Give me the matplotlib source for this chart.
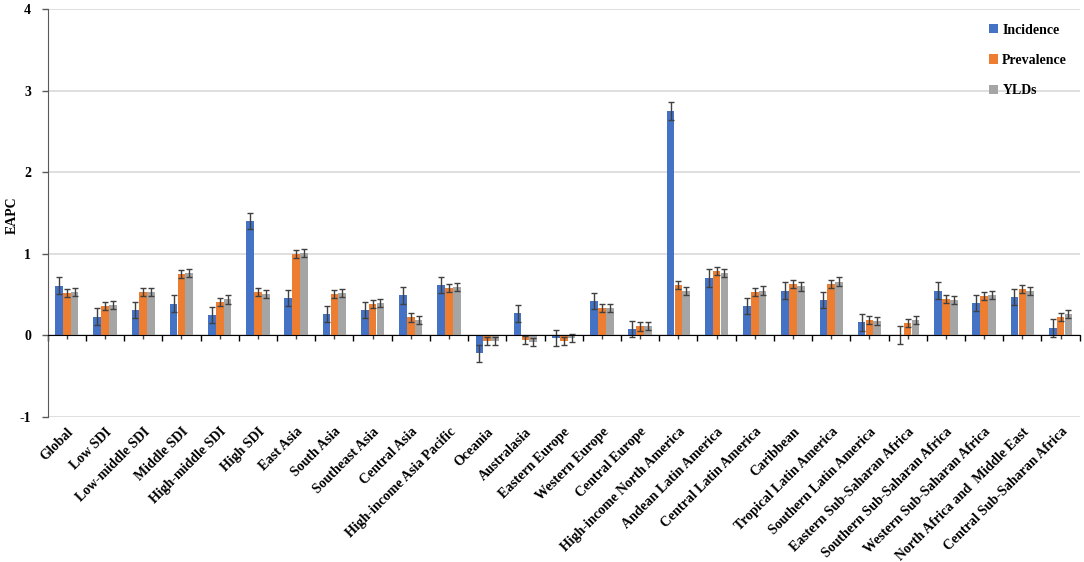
import numpy as np
import matplotlib
matplotlib.use("Agg")
import matplotlib.pyplot as plt

plt.rcParams['font.family'] = ['Liberation Serif', 'DejaVu Serif']
plt.rcParams['font.weight'] = 'bold'

# data
regions = ["Global", "Low SDI", "Low-middle SDI", "Middle SDI", "High-middle SDI",
           "High SDI", "East Asia", "South Asia", "Southeast Asia", "Central Asia",
           "High-income Asia Pacific", "Oceania", "Australasia", "Eastern Europe",
           "Western Europe", "Central Europe", "High-income North America",
           "Andean Latin America", "Central Latin America", "Caribbean",
           "Tropical Latin America", "Southern Latin America",
           "Eastern Sub-Saharan Africa", "Southern Sub-Saharan Africa",
           "Western Sub-Saharan Africa", "North Africa and  Middle East",
           "Central Sub-Saharan Africa"]

incidence = [0.61, 0.23, 0.31, 0.39, 0.25, 1.40, 0.46, 0.26, 0.31, 0.49,
             0.62, -0.22, 0.27, -0.03, 0.42, 0.08, 2.75, 0.70, 0.36, 0.55,
             0.43, 0.16, 0.00, 0.55, 0.40, 0.47, 0.09]
prevalence = [0.52, 0.36, 0.53, 0.75, 0.41, 0.53, 1.00, 0.51, 0.38, 0.22,
              0.58, -0.07, -0.06, -0.07, 0.34, 0.11, 0.62, 0.79, 0.53, 0.63,
              0.63, 0.19, 0.15, 0.45, 0.48, 0.57, 0.23]
ylds = [0.53, 0.37, 0.53, 0.76, 0.44, 0.51, 1.01, 0.52, 0.40, 0.19,
        0.59, -0.07, -0.08, -0.03, 0.34, 0.12, 0.54, 0.76, 0.55, 0.60,
        0.66, 0.18, 0.19, 0.43, 0.50, 0.54, 0.26]

inc_err = [0.10, 0.10, 0.10, 0.10, 0.10, 0.10, 0.10, 0.10, 0.10, 0.10,
           0.10, 0.10, 0.10, 0.10, 0.10, 0.10, 0.11, 0.11, 0.10, 0.10,
           0.10, 0.10, 0.11, 0.10, 0.10, 0.10, 0.11]
prev_err = [0.05, 0.05, 0.05, 0.05, 0.05, 0.05, 0.05, 0.05, 0.05, 0.05,
            0.05, 0.05, 0.05, 0.05, 0.05, 0.05, 0.05, 0.05, 0.05, 0.05,
            0.05, 0.05, 0.05, 0.05, 0.05, 0.05, 0.05]
yld_err = [0.05, 0.05, 0.05, 0.05, 0.05, 0.05, 0.05, 0.05, 0.05, 0.05,
           0.05, 0.05, 0.05, 0.05, 0.05, 0.05, 0.05, 0.05, 0.05, 0.05,
           0.05, 0.05, 0.05, 0.05, 0.05, 0.05, 0.05]

series = [("Incidence", incidence, inc_err, "#4472C4"),
          ("Prevalence", prevalence, prev_err, "#ED7D31"),
          ("YLDs", ylds, yld_err, "#A5A5A5")]

fig = plt.figure(figsize=(10.84, 5.62), dpi=100)
ax = fig.add_axes([0.044, 0.258, 0.952, 0.726])

x = np.arange(len(regions))
w = 0.2
for i, (name, vals, err, col) in enumerate(series):
    ax.bar(x + (i - 1) * 0.205, vals, w, color=col, label=name, zorder=3,
           yerr=err, error_kw=dict(ecolor="#404040", elinewidth=1.0,
                                   capsize=2.5, capthick=1.0, zorder=4))

ax.set_xlim(-0.5, len(regions) - 0.5)
ax.set_ylim(-1, 4)
ax.set_yticks([-1, 0, 1, 2, 3, 4])
ax.set_yticklabels(["-1", "0", "1", "2", "3", "4"], fontsize=10, fontweight='bold')
ax.yaxis.grid(True, color="#D9D9D9", linewidth=1.2, zorder=0)
ax.set_axisbelow(True)
ax.tick_params(axis='y', length=4, width=1, color="#595959", pad=8)
ax.set_ylabel("EAPC", fontsize=10, fontweight='bold')
ax.yaxis.set_label_coords(-0.028, 0.495)

for s in ["top", "right"]:
    ax.spines[s].set_visible(False)
ax.spines["left"].set_color("#595959")
ax.spines["bottom"].set_position(("data", 0))
ax.spines["bottom"].set_color("black")
ax.spines["bottom"].set_zorder(5)

# tick marks on the zero line, labels below the axes
ax.set_xticks(np.arange(len(regions) + 1) - 0.5)
ax.set_xticklabels([])
ax.set_xticks(x, minor=True)
ax.tick_params(axis='x', which='major', length=4, width=1, color="black")
ax.tick_params(axis='x', which='minor', length=3, width=1, color="#404040")

sec = ax.secondary_xaxis('bottom')
sec.set_xticks(x)
sec.set_xticklabels(regions, rotation=45, ha='right', rotation_mode='anchor',
                    fontsize=10, fontweight='bold')
sec.tick_params(length=0, pad=6)
sec.spines["bottom"].set_visible(False)

ax.legend(loc='upper right', bbox_to_anchor=(1.0, 0.995), frameon=False,
          prop={'weight': 'bold', 'size': 10}, labelspacing=1.25,
          handlelength=0.65, handleheight=0.65, handletextpad=0.3)

fig.savefig("out.png", dpi=100)
